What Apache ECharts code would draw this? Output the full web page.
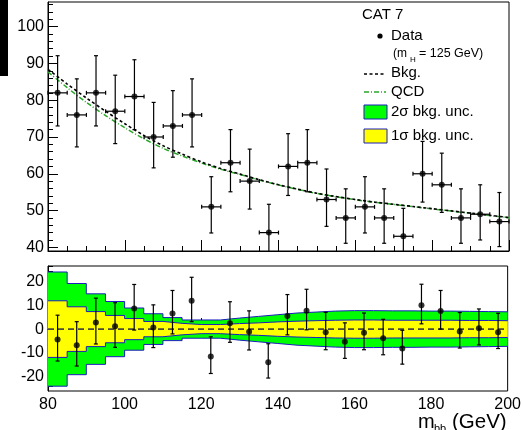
<!DOCTYPE html>
<html><head><meta charset="utf-8">
<script src="https://cdn.jsdelivr.net/npm/echarts@6/dist/echarts.min.js"></script>
<style>html,body{margin:0;padding:0;background:#fff}#c{width:524px;height:430px}</style>
</head><body><div id="c"></div>
<script>
// ---------------- data ----------------
const binCenters = [82.5, 87.5, 92.5, 97.5, 102.5, 107.5, 112.5, 117.5, 122.5, 127.5, 132.5, 137.5,
                    142.5, 147.5, 152.5, 157.5, 162.5, 167.5, 172.5, 177.5, 182.5, 187.5, 192.5, 197.5];
const binEdges = [80, 85, 90, 95, 100, 105, 110, 115, 120, 125, 130, 135, 140, 145, 150, 155, 160,
                  165, 170, 175, 180, 185, 190, 195, 200];
const binHalfWidth = 2.5;
const dataVals = [82, 76, 82, 77, 81, 70, 73, 76, 51, 63, 58, 44, 62, 63, 53, 48, 51, 48, 43, 60, 57, 48, 49, 47];
const errHi = [10.1, 9.8, 10.1, 9.8, 10.0, 9.4, 9.6, 9.8, 8.2, 9.0, 8.7, 7.7, 8.9, 9.0, 8.3, 7.9, 8.2, 7.9, 7.6, 8.8, 8.6, 7.9, 8.0, 7.9];
const errLo = [9.0, 8.7, 9.0, 8.8, 9.0, 8.4, 8.5, 8.7, 7.1, 7.9, 7.6, 6.6, 7.9, 7.9, 7.3, 6.9, 7.1, 6.9, 6.5, 7.7, 7.5, 6.9, 7.0, 6.8];
const bkgVals = [88.4, 84.4, 80.6, 77.0, 73.6, 70.4, 67.6, 65.3, 63.2, 61.4, 59.9, 58.4, 57.0, 55.8, 54.7,
                 53.8, 53.0, 52.3, 51.7, 51.1, 50.5, 49.9, 49.3, 48.7, 48.1];
const qcdVals = [87.7, 83.4, 79.4, 75.8, 72.5, 69.5, 66.9, 64.8, 62.9, 61.2, 59.8, 58.3, 56.95, 55.75, 54.65,
                 53.75, 52.95, 52.25, 51.65, 51.05, 50.45, 49.85, 49.25, 48.65, 48.05];
const residuals = [-4.3, -6.7, 2.8, 1.2, 8.6, 0.7, 6.5, 11.8, -11.4, 2.4, -1.1, -13.8, 5.5, 7.6, -1.3, -5.3,
                   -1.5, -3.8, -8.1, 9.9, 7.5, -1.0, 0.4, -1.3];
const band2s = [23.8, 19.0, 14.7, 11.5, 8.8, 6.4, 4.8, 3.8, 3.8, 4.6, 5.3, 6.0, 6.7, 7.1, 7.5, 7.7, 7.7, 7.6,
                7.6, 7.5, 7.5, 7.4, 7.3, 7.2];
const band1s = [11.8, 9.3, 7.3, 5.7, 4.4, 3.2, 2.4, 1.9, 1.9, 2.3, 2.6, 3.0, 3.3, 3.5, 3.7, 3.8, 3.8, 3.7,
                3.7, 3.7, 3.7, 3.6, 3.6, 3.5];
const xTickLabels = [80, 100, 120, 140, 160, 180, 200];
const topYLabels = [40, 50, 60, 70, 80, 90, 100];
const botYLabels = [-20, -10, 0, 10, 20];

// ---------------- helpers ----------------
const FONT = '"Liberation Sans", Arial, Helvetica, sans-serif';
const topMinor = []; for (let v = 40; v <= 106; v += 2) topMinor.push(v);
const botMinor = []; for (let v = -24; v <= 26; v += 2) botMinor.push(v);

function stepData(vals, sign) {
  const out = vals.map((v, i) => [binEdges[i], sign * v]);
  out.push([binEdges[binEdges.length - 1], sign * vals[vals.length - 1]]);
  return out;
}
function makeErr(horiz) {
  return function (params, api) {
    const x = api.value(0), y = api.value(1), hi = api.value(2), lo = api.value(3);
    const cs = params.coordSys;
    const top = cs.y, bot = cs.y + cs.height;
    const cl = v => Math.max(top, Math.min(bot, v));
    const p = api.coord([x, y]);
    const pt = api.coord([x, y + hi]);
    const pb = api.coord([x, y - lo]);
    const st = { stroke: '#000', lineWidth: 1.2 };
    const ch = [];
    ch.push({ type: 'line', shape: { x1: p[0], y1: cl(pt[1]), x2: p[0], y2: cl(pb[1]) }, style: st });
    if (pt[1] >= top) ch.push({ type: 'line', shape: { x1: p[0] - 2, y1: pt[1], x2: p[0] + 2, y2: pt[1] }, style: st });
    if (pb[1] <= bot) ch.push({ type: 'line', shape: { x1: p[0] - 2, y1: pb[1], x2: p[0] + 2, y2: pb[1] }, style: st });
    if (horiz) {
      const pl = api.coord([x - binHalfWidth, y]), pr = api.coord([x + binHalfWidth, y]);
      ch.push({ type: 'line', shape: { x1: pl[0], y1: p[1], x2: pr[0], y2: p[1] }, style: st });
      ch.push({ type: 'line', shape: { x1: pl[0], y1: p[1] - 2, x2: pl[0], y2: p[1] + 2 }, style: st });
      ch.push({ type: 'line', shape: { x1: pr[0], y1: p[1] - 2, x2: pr[0], y2: p[1] + 2 }, style: st });
    }
    return { type: 'group', children: ch };
  };
}

const axisLabelStyle = { color: '#000', fontFamily: FONT, fontSize: 16 };

const option = {
  animation: false,
  backgroundColor: '#fff',
  grid: [
    { left: 48, right: 15, top: 2, height: 249, show: true, borderColor: '#000', borderWidth: 1, backgroundColor: 'transparent' },
    { left: 48, right: 15, top: 266, height: 125, show: true, borderColor: '#000', borderWidth: 1, backgroundColor: 'transparent' }
  ],
  xAxis: [
    { type: 'value', gridIndex: 0, min: 80, max: 200, interval: 20,
      axisLine: { show: true, lineStyle: { color: '#000' } },
      axisTick: { show: true, inside: true, length: 11, lineStyle: { color: '#000' } },
      minorTick: { show: true, splitNumber: 4, length: 5, lineStyle: { color: '#000' } },
      axisLabel: { show: false }, splitLine: { show: false } },
    { type: 'value', gridIndex: 1, min: 80, max: 200, interval: 20,
      axisLine: { show: true, lineStyle: { color: '#000' } },
      axisTick: { show: true, inside: true, length: 11, lineStyle: { color: '#000' } },
      minorTick: { show: true, splitNumber: 4, length: 5, lineStyle: { color: '#000' } },
      axisLabel: Object.assign({ show: true, margin: 6, customValues: xTickLabels }, axisLabelStyle),
      splitLine: { show: false } }
  ],
  yAxis: [
    { type: 'value', gridIndex: 0, min: 39, max: 106.7,
      axisLine: { show: true, lineStyle: { color: '#000' } },
      axisTick: { show: true, inside: true, length: 10, customValues: topYLabels, lineStyle: { color: '#000' } },
      axisLabel: Object.assign({ show: true, margin: 4, customValues: topYLabels }, axisLabelStyle),
      splitLine: { show: false } },
    { type: 'value', gridIndex: 0, min: 39, max: 106.7, position: 'left',
      axisLine: { show: false },
      axisTick: { show: true, inside: true, length: 5, customValues: topMinor, lineStyle: { color: '#000' } },
      axisLabel: { show: false }, splitLine: { show: false } },
    { type: 'value', gridIndex: 1, min: -25.8, max: 26.3,
      axisLine: { show: true, lineStyle: { color: '#000' } },
      axisTick: { show: true, inside: true, length: 10, customValues: botYLabels, lineStyle: { color: '#000' } },
      axisLabel: Object.assign({ show: true, margin: 4, customValues: botYLabels }, axisLabelStyle),
      splitLine: { show: false } },
    { type: 'value', gridIndex: 1, min: -25.8, max: 26.3, position: 'left',
      axisLine: { show: false },
      axisTick: { show: true, inside: true, length: 5, customValues: botMinor, lineStyle: { color: '#000' } },
      axisLabel: { show: false }, splitLine: { show: false } }
  ],
  series: [
    // top panel curves
    { type: 'line', xAxisIndex: 0, yAxisIndex: 0, data: binEdges.map((x, i) => [x, qcdVals[i]]),
      smooth: 0.3, showSymbol: false, symbol: 'none', z: 3,
      lineStyle: { color: '#2aa52a', width: 1.5, type: [5, 2, 1, 2] } },
    { type: 'line', xAxisIndex: 0, yAxisIndex: 0, data: binEdges.map((x, i) => [x, bkgVals[i]]),
      smooth: 0.3, showSymbol: false, symbol: 'none', z: 4,
      lineStyle: { color: '#000', width: 1.6, type: [3, 2.5] } },
    // top panel data
    { type: 'custom', xAxisIndex: 0, yAxisIndex: 0, renderItem: makeErr(true), z: 5,
      data: binCenters.map((c, i) => [c, dataVals[i], errHi[i], errLo[i]]), encode: { x: 0, y: 1 } },
    { type: 'scatter', xAxisIndex: 0, yAxisIndex: 0, symbolSize: 6, z: 6,
      itemStyle: { color: '#000' }, data: binCenters.map((c, i) => [c, dataVals[i]]) },
    // bottom panel bands
    { type: 'line', xAxisIndex: 1, yAxisIndex: 2, step: 'end', data: stepData(band2s, 1), symbol: 'none', z: 1,
      lineStyle: { color: '#1c1cc0', width: 1 }, areaStyle: { color: '#00ff00', opacity: 1 } },
    { type: 'line', xAxisIndex: 1, yAxisIndex: 2, step: 'end', data: stepData(band2s, -1), symbol: 'none', z: 1,
      lineStyle: { color: '#1c1cc0', width: 1 }, areaStyle: { color: '#00ff00', opacity: 1 } },
    { type: 'line', xAxisIndex: 1, yAxisIndex: 2, step: 'end', data: stepData(band1s, 1), symbol: 'none', z: 2,
      lineStyle: { color: '#1c1cc0', width: 1 }, areaStyle: { color: '#ffff00', opacity: 1 } },
    { type: 'line', xAxisIndex: 1, yAxisIndex: 2, step: 'end', data: stepData(band1s, -1), symbol: 'none', z: 2,
      lineStyle: { color: '#1c1cc0', width: 1 }, areaStyle: { color: '#ffff00', opacity: 1 } },
    // zero line
    { type: 'line', xAxisIndex: 1, yAxisIndex: 2, data: [[80, 0], [200, 0]], symbol: 'none', z: 3,
      lineStyle: { color: '#4a4a3a', width: 1.6, type: [6, 4] } },
    // residuals
    { type: 'custom', xAxisIndex: 1, yAxisIndex: 2, renderItem: makeErr(false), z: 5,
      data: binCenters.map((c, i) => [c, residuals[i], errHi[i], errLo[i]]), encode: { x: 0, y: 1 } },
    { type: 'scatter', xAxisIndex: 1, yAxisIndex: 2, symbolSize: 6, z: 6,
      itemStyle: { color: '#000' }, data: binCenters.map((c, i) => [c, residuals[i]]) }
  ],
  graphic: [
    { type: 'rect', left: 0, top: 0, shape: { width: 8, height: 76 }, style: { fill: '#000' } },
    // legend
    { type: 'text', x: 362, y: 15, style: { text: 'CAT 7', fontFamily: FONT, fontSize: 15, fill: '#000', verticalAlign: 'middle' } },
    { type: 'circle', shape: { cx: 380, cy: 36, r: 2.6 }, style: { fill: '#000' } },
    { type: 'text', x: 391, y: 36, style: { text: 'Data', fontFamily: FONT, fontSize: 15, fill: '#000', verticalAlign: 'middle' } },
    { type: 'text', x: 393, y: 54, style: { text: '(m', fontFamily: FONT, fontSize: 12, fill: '#000', verticalAlign: 'middle' } },
    { type: 'text', x: 410, y: 60, style: { text: 'H', fontFamily: FONT, fontSize: 8, fill: '#000', verticalAlign: 'middle' } },
    { type: 'text', x: 419, y: 54, style: { text: '= 125 GeV)', fontFamily: FONT, fontSize: 12.5, fill: '#000', verticalAlign: 'middle' } },
    { type: 'line', shape: { x1: 364, y1: 74, x2: 386, y2: 74 }, style: { stroke: '#000', lineWidth: 1.6, lineDash: [3, 2.5] } },
    { type: 'text', x: 391, y: 73, style: { text: 'Bkg.', fontFamily: FONT, fontSize: 15, fill: '#000', verticalAlign: 'middle' } },
    { type: 'line', shape: { x1: 364, y1: 92, x2: 386, y2: 92 }, style: { stroke: '#2aa52a', lineWidth: 1.5, lineDash: [5, 2, 1, 2] } },
    { type: 'text', x: 391, y: 92, style: { text: 'QCD', fontFamily: FONT, fontSize: 15, fill: '#000', verticalAlign: 'middle' } },
    { type: 'rect', shape: { x: 364, y: 105, width: 23, height: 14 }, style: { fill: '#00ff00', stroke: '#1c1cc0', lineWidth: 1 } },
    { type: 'text', x: 391, y: 112, style: { text: '2σ bkg. unc.', fontFamily: FONT, fontSize: 15, fill: '#000', verticalAlign: 'middle' } },
    { type: 'rect', shape: { x: 364, y: 129, width: 23, height: 14 }, style: { fill: '#ffff00', stroke: '#1c1cc0', lineWidth: 1 } },
    { type: 'text', x: 391, y: 136, style: { text: '1σ bkg. unc.', fontFamily: FONT, fontSize: 15, fill: '#000', verticalAlign: 'middle' } },
    // x-axis title
    { type: 'text', x: 418, y: 422, style: { text: 'm', fontFamily: FONT, fontSize: 20, fill: '#000', verticalAlign: 'middle' } },
    { type: 'text', x: 434, y: 429, style: { text: 'bb', fontFamily: FONT, fontSize: 11, fill: '#000', verticalAlign: 'middle' } },
    { type: 'text', x: 452, y: 422, style: { text: '(GeV)', fontFamily: FONT, fontSize: 20.5, fill: '#000', verticalAlign: 'middle' } }
  ]
};
const chart = echarts.init(document.getElementById('c'));
chart.setOption(option);
</script>
</body></html>
